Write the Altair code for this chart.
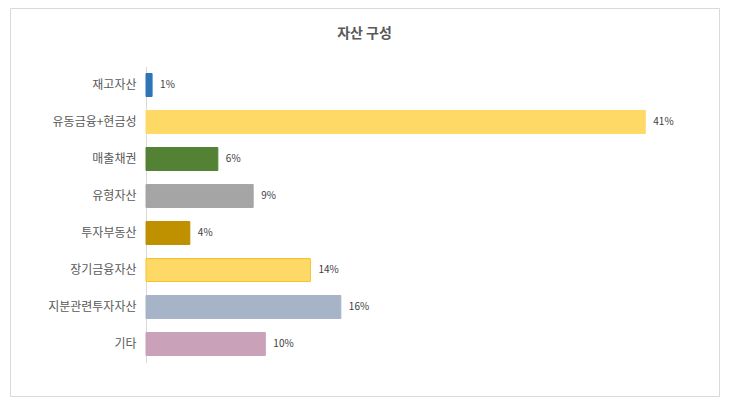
import altair as alt
import pandas as pd

categories = ["재고자산", "유동금융+현금성", "매출채권", "유형자산", "투자부동산", "장기금융자산", "지분관련투자자산", "기타"]
values = [0.5, 41.0, 5.9, 8.8, 3.6, 13.5, 16.0, 9.8]
labels = ["1%", "41%", "6%", "9%", "4%", "14%", "16%", "10%"]
colors = ["#2E75B6", "#FFD966", "#548235", "#A5A5A5", "#BF9000", "#FFD966", "#A7B4C8", "#C9A2B9"]
strokes = ["#2E75B6", "#FFD966", "#548235", "#A5A5A5", "#BF9000", "#F2C12E", "#A7B4C8", "#C9A2B9"]

df = pd.DataFrame({"cat": categories, "val": values, "label": labels,
                   "color": colors, "stroke": strokes})

FONT = "Noto Sans CJK KR"

y = alt.Y("cat:N", sort=categories, title=None,
          scale=alt.Scale(range=[58.5, 354.5], paddingInner=0.38, paddingOuter=0.19),
          axis=alt.Axis(orient="left", offset=-136, ticks=False, domainColor="#D9D9D9",
                        labelFont=FONT, labelFontSize=12, labelColor="#595959",
                        labelPadding=10))
x = alt.X("val:Q", title=None, scale=alt.Scale(domain=[0, 45], range=[136, 684]), axis=None)

bars = alt.Chart(df).mark_bar(strokeWidth=1).encode(
    x=x, y=y,
    color=alt.Color("color:N", scale=None),
    stroke=alt.Stroke("stroke:N", scale=None),
)
text = alt.Chart(df).mark_text(align="left", dx=8, font=FONT, fontSize=10, color="#404040").encode(
    x=x, y=alt.Y("cat:N", sort=categories), text="label:N")

chart = (bars + text).properties(
    width=709, height=388,
    padding={"left": 2, "top": 0, "right": 2, "bottom": 2},
    title=alt.TitleParams("자산 구성", font=FONT, fontSize=14, fontWeight="bold",
                          color="#595959", offset=-33, anchor="middle"),
).configure_view(stroke="#D9D9D9", strokeWidth=1)

chart.save("out.html", embed_options={"renderer": "svg", "actions": False})
